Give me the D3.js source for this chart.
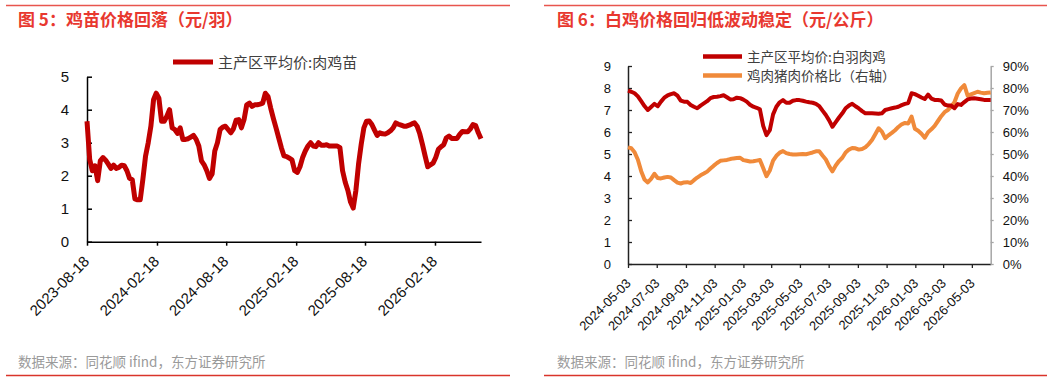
<!DOCTYPE html>
<html><head><meta charset="utf-8">
<script src="https://cdn.jsdelivr.net/npm/d3@7"></script>
<style>
html,body{margin:0;padding:0;background:#fff;}
svg{display:block;font-family:"Liberation Sans",Arial,"Noto Sans CJK SC",sans-serif;}
.cjk{font-family:"Noto Sans CJK SC","Liberation Sans",sans-serif;}
</style></head>
<body><svg id="c" width="1061" height="381"></svg>
<script>
// ---------- Data ----------
const leftTitle = "图 5：鸡苗价格回落（元/羽）";
const rightTitle = "图 6：白鸡价格回归低波动稳定（元/公斤）";
const sourceText = "数据来源：同花顺 ifind，东方证券研究所";
const leftSeriesName = "主产区平均价:肉鸡苗";
const rightSeriesNames = ["主产区平均价:白羽肉鸡", "鸡肉猪肉价格比（右轴）"];

// weekly, starting 2023-08-18
const chickStart = "2023-08-18";
const chickPrice = [
 3.65,2.5,2.15,2.3,1.85,2.45,2.55,2.47,2.35,2.22,
 2.32,2.22,2.25,2.32,2.3,2.15,1.92,1.88,1.3,1.27,
 1.27,1.9,2.6,3.0,3.5,4.3,4.5,4.35,3.65,3.65,
 3.8,4.0,3.45,3.4,3.28,3.45,3.1,3.1,3.12,3.17,
 3.22,3.1,2.9,2.45,2.33,2.15,1.92,2.05,2.75,3.0,
 3.4,3.47,3.5,3.4,3.3,3.42,3.68,3.7,3.45,3.7,
 4.15,4.2,4.1,4.15,4.15,4.17,4.2,4.5,4.4,4.05,
 3.74,3.45,3.15,2.85,2.6,2.58,2.53,2.48,2.15,2.1,
 2.27,2.55,2.75,2.9,3.0,2.9,2.88,3.0,2.92,2.92,
 2.94,2.9,2.9,2.9,2.9,2.85,2.15,1.8,1.55,1.2,
 1.02,1.55,2.35,2.95,3.45,3.65,3.66,3.55,3.38,3.22,
 3.3,3.27,3.26,3.3,3.36,3.45,3.6,3.56,3.53,3.5,
 3.5,3.53,3.57,3.6,3.5,3.27,2.95,2.6,2.27,2.33,
 2.38,2.55,2.8,2.88,2.94,3.15,3.2,3.13,3.13,3.13,
 3.25,3.34,3.33,3.33,3.42,3.55,3.52,3.3,3.12
];
const leftTickLabels = ["2023-08-18","2024-02-18","2024-08-18","2025-02-18","2025-08-18","2026-02-18"];
const leftYTicks = [0,1,2,3,4,5];

// weekly, starting 2024-05-03
const broilerStart = "2024-05-03";
const broilerPrice = [
 7.88,7.83,7.76,7.62,7.4,7.18,7.0,7.14,7.28,7.17,
 7.38,7.56,7.66,7.72,7.76,7.65,7.43,7.38,7.37,7.23,
 7.15,7.08,7.2,7.3,7.4,7.54,7.59,7.6,7.63,7.67,
 7.58,7.48,7.49,7.56,7.54,7.47,7.38,7.24,7.15,7.1,
 7.03,6.28,5.86,6.08,6.8,7.15,7.35,7.45,7.33,7.33,
 7.42,7.45,7.45,7.42,7.38,7.35,7.33,7.28,7.18,6.97,
 6.77,6.53,6.24,6.45,6.66,6.85,7.08,7.2,7.28,7.17,
 7.07,6.95,6.85,6.85,6.85,6.84,6.83,6.85,7.0,7.04,
 7.08,7.11,7.15,7.22,7.28,7.32,7.76,7.72,7.65,7.57,
 7.5,7.7,7.52,7.46,7.45,7.43,7.25,7.2,7.2,7.08,
 7.27,7.23,7.36,7.48,7.52,7.53,7.51,7.49,7.46,7.45,
 7.45
];
const chickenPorkRatio = [
 0.530,0.526,0.508,0.474,0.422,0.384,0.371,0.387,0.410,0.391,
 0.389,0.393,0.396,0.393,0.381,0.370,0.366,0.371,0.372,0.368,
 0.381,0.393,0.403,0.411,0.420,0.434,0.447,0.459,0.469,0.471,
 0.473,0.477,0.480,0.482,0.483,0.472,0.469,0.466,0.467,0.470,
 0.473,0.436,0.399,0.425,0.470,0.492,0.506,0.513,0.504,0.500,
 0.498,0.498,0.499,0.500,0.499,0.503,0.507,0.512,0.512,0.493,
 0.475,0.445,0.421,0.448,0.468,0.483,0.507,0.520,0.527,0.526,
 0.520,0.523,0.531,0.545,0.564,0.590,0.617,0.602,0.572,0.585,
 0.596,0.608,0.623,0.635,0.641,0.639,0.670,0.615,0.606,0.592,
 0.574,0.599,0.612,0.628,0.650,0.672,0.690,0.700,0.715,0.735,
 0.775,0.798,0.813,0.765,0.771,0.777,0.783,0.779,0.776,0.778,
 0.780
];
const rightTickLabels = ["2024-05-03","2024-07-03","2024-09-03","2024-11-03","2025-01-03","2025-03-03","2025-05-03","2025-07-03","2025-09-03","2025-11-03","2026-01-03","2026-03-03","2026-05-03"];
const rightYTicks = [0,1,2,3,4,5,6,7,8,9];
const rightY2Ticks = [0,0.1,0.2,0.3,0.4,0.5,0.6,0.7,0.8,0.9];

// ---------- Drawing ----------
const parse = d3.timeParse("%Y-%m-%d");
const fmt = d3.timeFormat("%Y-%m-%d");
const svg = d3.select("#c");
const RED = "#C00000", ORANGE = "#F08A3A", HEAD = "#E8382F";

function frame(x0, x1, titleX, title) {
  svg.append("line").attr("x1", x0).attr("x2", x1).attr("y1", 5.5).attr("y2", 5.5)
    .attr("stroke", "#E8554E").attr("stroke-width", 1.5);
  svg.append("line").attr("x1", x0).attr("x2", x1).attr("y1", 375.5).attr("y2", 375.5)
    .attr("stroke", "#D9342B").attr("stroke-width", 1.5);
  svg.append("text").attr("class", "cjk").attr("x", titleX).attr("y", 26)
    .attr("fill", HEAD).attr("font-size", 17).attr("font-weight", "bold").text(title);
  svg.append("text").attr("class", "cjk").attr("x", titleX).attr("y", 367)
    .attr("fill", "#9a9a9a").attr("font-size", 13.5).text(sourceText);
}
frame(6, 510, 18, leftTitle);
frame(544, 1047, 557, rightTitle);

// ---- Left chart ----
const lData = chickPrice.map((v, i) => ({ d: d3.timeDay.offset(parse(chickStart), 7 * i), v }));
const xL = d3.scaleTime().domain([lData[0].d, lData[lData.length - 1].d]).range([87, 481]);
const yL = d3.scaleLinear().domain([0, 5]).range([241.7, 76.7]);

const gxL = svg.append("g").attr("transform", "translate(0,241.7)")
  .call(d3.axisBottom(xL).tickValues(leftTickLabels.map(parse)).tickFormat(fmt).tickSize(4).tickSizeOuter(0));
gxL.selectAll("text").attr("x", 0).attr("y", 0).attr("dy", "0.35em")
  .attr("transform", "translate(-1,17) rotate(-45)").style("text-anchor", "end")
  .attr("font-size", 15).attr("fill", "#111");
const gyL = svg.append("g").attr("transform", "translate(87,0)")
  .call(d3.axisLeft(yL).tickValues(leftYTicks).tickFormat(d3.format("d")).tickSize(-5).tickSizeOuter(0).tickPadding(18));
gyL.selectAll("text").attr("font-size", 15).attr("fill", "#111");
[gxL, gyL].forEach(g => { g.select(".domain").attr("stroke", "#000").attr("stroke-width", 1.5); g.selectAll("line").attr("stroke", "#000").attr("stroke-width", 1.5); g.attr("font-family", null); });

svg.append("path").datum(lData)
  .attr("d", d3.line().x(d => xL(d.d)).y(d => yL(d.v)))
  .attr("fill", "none").attr("stroke", RED).attr("stroke-width", 5).attr("stroke-linejoin", "round");

svg.append("line").attr("x1", 173).attr("x2", 213).attr("y1", 62).attr("y2", 62).attr("stroke", RED).attr("stroke-width", 5);
svg.append("text").attr("class", "cjk").attr("x", 218).attr("y", 67.5).attr("font-size", 15).attr("fill", "#404040").text(leftSeriesName);

// ---- Right chart ----
const rData = broilerPrice.map((v, i) => ({ d: d3.timeDay.offset(parse(broilerStart), 7 * i), v, r: chickenPorkRatio[i] }));
const xR = d3.scaleTime().domain([rData[0].d, rData[rData.length - 1].d]).range([628, 990.7]);
const yR = d3.scaleLinear().domain([0, 9]).range([264, 66]);
const yR2 = d3.scaleLinear().domain([0, 0.9]).range([264, 66]);

const gxR = svg.append("g").attr("transform", "translate(0,264)")
  .call(d3.axisBottom(xR).tickValues(rightTickLabels.map(parse)).tickFormat(fmt).tickSize(4).tickSizeOuter(0));
gxR.selectAll("text").attr("x", 0).attr("y", 0).attr("dy", "0.35em")
  .attr("transform", "translate(0,17) rotate(-45)").style("text-anchor", "end")
  .attr("font-size", 13).attr("fill", "#111");
const gyR = svg.append("g").attr("transform", "translate(628,0)")
  .call(d3.axisLeft(yR).tickValues(rightYTicks).tickFormat(d3.format("d")).tickSize(-4).tickSizeOuter(0).tickPadding(17));
gyR.selectAll("text").attr("font-size", 13).attr("fill", "#111");
[gxR, gyR].forEach(g => { g.select(".domain").attr("stroke", "#222").attr("stroke-width", 1.5); g.selectAll("line").attr("stroke", "#222").attr("stroke-width", 1.3); g.attr("font-family", null); });
const gyR2 = svg.append("g").attr("transform", "translate(990.7,0)")
  .call(d3.axisRight(yR2).tickValues(rightY2Ticks).tickFormat(d3.format(".0%")).tickSize(3).tickSizeOuter(0).tickPadding(9));
gyR2.selectAll("text").attr("font-size", 13).attr("fill", "#111");
gyR2.select(".domain").attr("stroke", "#a6a6a6").attr("stroke-width", 1.5);
gyR2.selectAll("line").attr("stroke", "#a6a6a6").attr("stroke-width", 1.3);
gyR2.attr("font-family", null);

svg.append("path").datum(rData)
  .attr("d", d3.line().x(d => xR(d.d)).y(d => yR2(d.r)))
  .attr("fill", "none").attr("stroke", ORANGE).attr("stroke-width", 4).attr("stroke-linejoin", "round");
svg.append("path").datum(rData)
  .attr("d", d3.line().x(d => xR(d.d)).y(d => yR(d.v)))
  .attr("fill", "none").attr("stroke", RED).attr("stroke-width", 4).attr("stroke-linejoin", "round");

[[RED, 56.5], [ORANGE, 75.5]].forEach(([c, y], i) => {
  svg.append("line").attr("x1", 703).attr("x2", 742).attr("y1", y).attr("y2", y).attr("stroke", c).attr("stroke-width", 4.5);
  svg.append("text").attr("class", "cjk").attr("x", 747).attr("y", y + 5).attr("font-size", 13.5).attr("fill", "#404040").text(rightSeriesNames[i]);
});
</script></body></html>
